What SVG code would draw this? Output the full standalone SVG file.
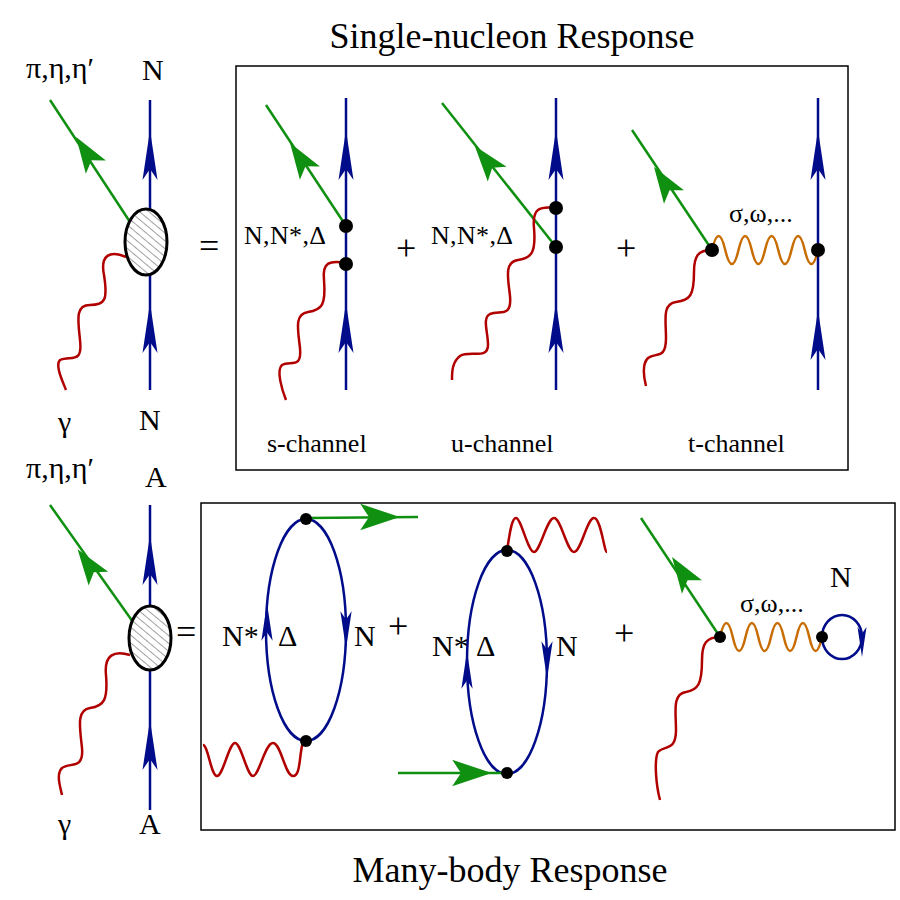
<svg xmlns="http://www.w3.org/2000/svg" width="900" height="900" viewBox="0 0 900 900">
<defs>
<style>
text{font-family:"Liberation Serif","DejaVu Serif",serif;fill:#000}
.t{font-size:30px}.s{font-size:26px}.h{font-size:36px}
.bl{stroke:#000c8a;stroke-width:2.5;fill:none}
.gr{stroke:#109010;stroke-width:2.5;fill:none}
.rd{stroke:#b00000;stroke-width:2.5;fill:none}
.or{stroke:#c86c00;stroke-width:2.5;fill:none}
.box{stroke:#000;stroke-width:1.5;fill:none}
.fb{fill:#000c8a}.fg{fill:#109010}
</style>
<path id="ah" d="M25,0 L-25,-7.5 L-14,0 L-25,7.5 Z"/>
<path id="ag" d="M18,0 L-18,-12 L-10,0 L-18,12 Z"/>
<pattern id="hat" width="6" height="6" patternUnits="userSpaceOnUse" patternTransform="rotate(40)">
<rect width="6" height="6" fill="#fff"/><line x1="0" y1="0" x2="6" y2="0" stroke="#444" stroke-width="1"/>
</pattern>
</defs>
<rect width="900" height="900" fill="#fff"/>

<text class="h" x="512" y="48" text-anchor="middle">Single-nucleon Response</text>
<text class="h" x="510" y="882" text-anchor="middle">Many-body Response</text>
<rect class="box" x="236" y="66" width="612" height="404"/>
<rect class="box" x="201" y="503" width="694" height="327"/>

<g id="top-left">
<line class="gr" x1="50" y1="100" x2="130" y2="222"/>
<use href="#ag" class="fg" transform="translate(86,152) rotate(-123.3)"/>
<line class="bl" x1="150" y1="100" x2="150" y2="390"/>
<use href="#ah" class="fb" transform="translate(150,155) rotate(-90)"/>
<use href="#ah" class="fb" transform="translate(150,328) rotate(-90)"/>
<path class="rd" d="M126,257 C110,250 100,255 104,275 C108,300 105,305 90,305 C75,305 78,320 80,340 C83,365 70,355 60,360 C55,365 62,380 66,390"/>
<ellipse cx="146" cy="242" rx="21" ry="33" fill="url(#hat)" stroke="#000" stroke-width="3"/>
<text class="t" x="26" y="78">π,η,η′</text>
<text class="t" x="142" y="80">N</text>
<text class="t" x="58" y="432">γ</text>
<text class="t" x="139" y="430">N</text>
<text class="h" x="199" y="258">=</text>
</g>

<g id="s-channel">
<line class="gr" x1="266" y1="105" x2="346" y2="226"/>
<use href="#ag" class="fg" transform="translate(300,158) rotate(-123.5)"/>
<line class="bl" x1="346" y1="98" x2="346" y2="390"/>
<use href="#ah" class="fb" transform="translate(346,155) rotate(-90)"/>
<use href="#ah" class="fb" transform="translate(346,328) rotate(-90)"/>
<path class="rd" d="M346,263 C330,260 322,262 324,280 C326,305 322,310 308,312 C294,314 298,330 300,348 C302,370 290,360 282,365 C276,370 282,390 286,400"/>
<circle cx="346" cy="226" r="7"/><circle cx="346" cy="264" r="7"/>
<text class="s" x="244" y="244" textLength="82">N,N*,Δ</text>
<text class="s" x="267" y="452">s-channel</text>
<text class="h" x="396" y="260">+</text>
</g>

<g id="u-channel">
<line class="gr" x1="442" y1="103" x2="556" y2="247"/>
<use href="#ag" class="fg" transform="translate(486,160) rotate(-128.4)"/>
<line class="bl" x1="556" y1="98" x2="556" y2="390"/>
<use href="#ah" class="fb" transform="translate(556,155) rotate(-90)"/>
<use href="#ah" class="fb" transform="translate(556,328) rotate(-90)"/>
<path class="rd" d="M556,208 C540,206 532,208 534,228 C536,252 532,258 518,260 C504,262 508,278 510,296 C512,318 500,310 490,314 C482,318 488,332 488,345 C488,360 470,350 460,356 C452,362 452,372 452,380"/>
<circle cx="556" cy="208" r="7"/><circle cx="556" cy="247" r="7"/>
<text class="s" x="431" y="244" textLength="82">N,N*,Δ</text>
<text class="s" x="451" y="452">u-channel</text>
<text class="h" x="616" y="260">+</text>
</g>

<g id="t-channel">
<line class="gr" x1="632" y1="130" x2="712" y2="250"/>
<use href="#ag" class="fg" transform="translate(664,182) rotate(-123.7)"/>
<line class="bl" x1="818" y1="98" x2="818" y2="390"/>
<use href="#ah" class="fb" transform="translate(818,155) rotate(-90)"/>
<use href="#ah" class="fb" transform="translate(818,335) rotate(-90)"/>
<path class="or" d="M712,250 q6.6,-28 13.25,0 t13.25,0 t13.25,0 t13.25,0 t13.25,0 t13.25,0 t13.25,0 t13.25,0"/>
<path class="rd" d="M712,250 C698,250 694,256 694,272 C694,296 690,300 676,302 C662,304 666,320 666,338 C666,360 656,352 648,358 C642,364 644,378 646,386"/>
<circle cx="712" cy="250" r="7"/><circle cx="818" cy="250" r="7"/>
<text class="s" x="729" y="222">σ,ω,...</text>
<text class="s" x="688" y="452">t-channel</text>
</g>

<g id="bottom-left">
<line class="gr" x1="50" y1="505" x2="133" y2="622"/>
<use href="#ag" class="fg" transform="translate(88,564) rotate(-125.4)"/>
<line class="bl" x1="150" y1="505" x2="150" y2="810"/>
<use href="#ah" class="fb" transform="translate(150,560) rotate(-90)"/>
<use href="#ah" class="fb" transform="translate(150,745) rotate(-90)"/>
<path class="rd" d="M130,655 C114,650 104,655 106,675 C108,700 104,706 90,708 C76,710 80,728 82,748 C84,770 70,762 62,768 C56,774 60,786 62,795"/>
<ellipse cx="150" cy="638" rx="21" ry="32" fill="url(#hat)" stroke="#000" stroke-width="3"/>
<text class="t" x="26" y="478">π,η,η′</text>
<text class="t" x="145" y="487">A</text>
<text class="t" x="58" y="834">γ</text>
<text class="t" x="139" y="834">A</text>
<text class="h" x="176" y="644">=</text>
</g>

<g id="loop1">
<ellipse class="bl" cx="306" cy="630" rx="40" ry="111"/>
<use href="#ah" class="fb" transform="translate(267,622) rotate(-90) scale(0.75)"/>
<use href="#ah" class="fb" transform="translate(346,630) rotate(90) scale(0.75)"/>
<line class="gr" x1="306" y1="518" x2="418" y2="517"/>
<use href="#ag" class="fg" transform="translate(380,517) scale(1.1)"/>
<path class="rd" d="M203,745 c5,0 8,31 14,31 s12,-33 18,-33 s12,33 18,33 s12,-33 20,-33 s12,33 20,33 s6,-22 10,-34"/>
<circle cx="306" cy="519" r="6"/><circle cx="306" cy="741" r="6"/>
<text class="t" x="222" y="646">N*</text>
<text class="t" x="278" y="646">Δ</text>
<text class="t" x="354" y="646">N</text>
<text class="h" x="388" y="638">+</text>
</g>

<g id="loop2">
<ellipse class="bl" cx="507" cy="662" rx="40" ry="112"/>
<use href="#ah" class="fb" transform="translate(467,670) rotate(-90) scale(0.75)"/>
<use href="#ah" class="fb" transform="translate(547,660) rotate(90) scale(0.75)"/>
<line class="gr" x1="398" y1="773" x2="507" y2="773"/>
<use href="#ag" class="fg" transform="translate(472,773) scale(1.1)"/>
<path class="rd" d="M507,550 c2,-10 4,-32 9,-32 s12,34 18,34 s13,-34 20,-34 s13,34 20,34 s13,-34 20,-34 s10,34 13,34"/>
<circle cx="507" cy="551" r="6"/><circle cx="507" cy="773" r="6"/>
<text class="t" x="432" y="656">N*</text>
<text class="t" x="476" y="656">Δ</text>
<text class="t" x="556" y="656">N</text>
<text class="h" x="614" y="645">+</text>
</g>

<g id="tadpole">
<line class="gr" x1="641" y1="518" x2="720" y2="637"/>
<use href="#ag" class="fg" transform="translate(682,572) rotate(-123.6)"/>
<path class="or" d="M720,637 q6.4,-28 12.75,0 t12.75,0 t12.75,0 t12.75,0 t12.75,0 t12.75,0 t12.75,0 t12.75,0"/>
<path class="rd" d="M720,637 C706,637 702,644 702,660 C702,684 698,690 686,692 C672,694 676,712 676,730 C676,752 664,745 658,752 C654,760 656,785 660,800"/>
<ellipse class="bl" cx="842" cy="637" rx="20" ry="22"/>
<use href="#ah" class="fb" transform="translate(862,642) rotate(90) scale(0.6)"/>
<circle cx="720" cy="637" r="6"/><circle cx="822" cy="637" r="6"/>
<text class="t" x="830" y="587">N</text>
<text class="s" x="740" y="612">σ,ω,...</text>
</g>
</svg>
